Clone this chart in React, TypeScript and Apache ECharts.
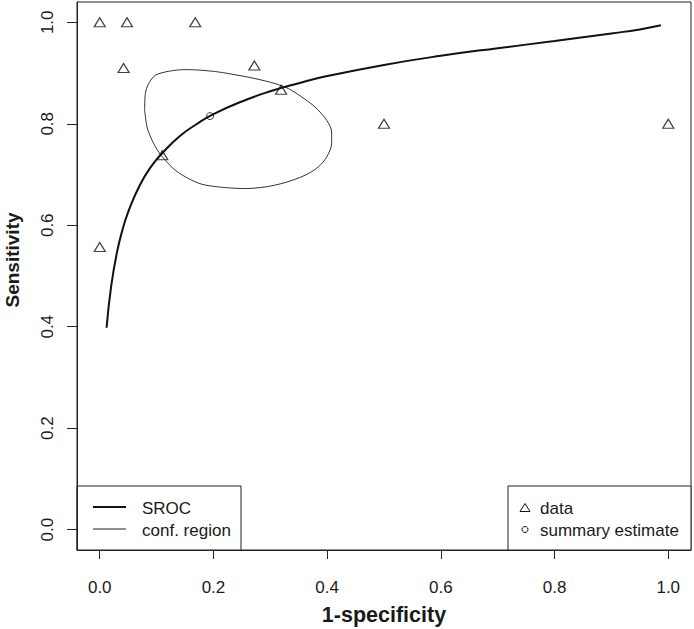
import React, { useEffect, useRef } from "react";
import * as echarts from "echarts";

// Study data (1-specificity, sensitivity)
const DATA_FPR = [0, 0.048, 0.168, 0.042, 0.11, 0, 0.272, 0.319, 0.5, 1.0];
const DATA_SENS = [1, 1, 1, 0.91, 0.738, 0.557, 0.915, 0.867, 0.8, 0.8];

// Summary estimate
const SUMMARY_FPR = [0.194];
const SUMMARY_SENS = [0.815];

// SROC curve
const SROC_X = [0.012, 0.02, 0.03, 0.04, 0.05, 0.07, 0.09, 0.11, 0.14, 0.17, 0.2, 0.25, 0.3, 0.35, 0.4, 0.5, 0.6, 0.7, 0.8, 0.9, 0.95, 0.987];
const SROC_Y = [0.398, 0.479, 0.545, 0.591, 0.626, 0.678, 0.715, 0.742, 0.775, 0.799, 0.819, 0.844, 0.864, 0.88, 0.894, 0.916, 0.934, 0.949, 0.963, 0.978, 0.986, 0.994];

// Confidence region outline
const REGION_X = [0.079, 0.0802, 0.086, 0.0978, 0.1211, 0.1504, 0.1797, 0.2089, 0.2382, 0.2733, 0.3084, 0.3318, 0.3553, 0.3786, 0.3992, 0.4079, 0.4079, 0.3992, 0.3844, 0.3611, 0.326, 0.2909, 0.2557, 0.2382, 0.2089, 0.1797, 0.1562, 0.1329, 0.1153, 0.1036, 0.092, 0.0832, 0.079];
const REGION_Y = [0.8266, 0.8595, 0.8792, 0.8956, 0.9034, 0.9068, 0.9054, 0.9021, 0.8966, 0.8891, 0.8792, 0.8694, 0.8528, 0.8331, 0.8069, 0.7838, 0.761, 0.7346, 0.7149, 0.6985, 0.6841, 0.6755, 0.6723, 0.6729, 0.6755, 0.6808, 0.692, 0.7084, 0.7281, 0.7444, 0.7675, 0.7937, 0.8266];

const X_TICKS = [0, 0.2, 0.4, 0.6, 0.8, 1.0];
const Y_TICKS = [0, 0.2, 0.4, 0.6, 0.8, 1.0];

const LEGEND_LEFT = ["SROC", "conf. region"];
const LEGEND_RIGHT = ["data", "summary estimate"];

const FONT = "'Liberation Sans', Arial, Helvetica, sans-serif";
const INK = "#1a1a1a";

const zip = (xs: number[], ys: number[]) => xs.map((x, i) => [x, ys[i]]);

export default function App() {
  const ref = useRef<HTMLDivElement>(null);
  useEffect(() => {
    const chart = echarts.init(ref.current as HTMLDivElement, null, { renderer: "svg" });
    const textStyle = (x: number, y: number, text: string) => ({
      type: "text",
      x,
      y,
      style: { text, fontSize: 17, fontFamily: FONT, fill: INK, textVerticalAlign: "middle", verticalAlign: "middle" },
    });
    chart.setOption({
      animation: false,
      backgroundColor: "#ffffff",
      grid: {
        left: 77,
        top: 2,
        width: 614,
        height: 548,
        containLabel: false,
        outerBoundsMode: "none",
        show: true,
        borderColor: "#222",
        borderWidth: 1,
        backgroundColor: "transparent",
      },
      xAxis: {
        type: "value",
        min: -0.04,
        max: 1.04,
        name: "1-specificity",
        nameLocation: "middle",
        nameGap: 54,
        nameTextStyle: { fontSize: 21.5, fontWeight: "bold", color: INK, fontFamily: FONT },
        axisLine: { show: true, onZero: false, lineStyle: { color: "#222", width: 1 } },
        axisTick: { show: true, length: 9, customValues: X_TICKS, lineStyle: { color: "#222" } },
        axisLabel: {
          customValues: X_TICKS,
          formatter: (v: number) => v.toFixed(1),
          fontSize: 17,
          color: INK,
          margin: 29,
          fontFamily: FONT,
        },
        splitLine: { show: false },
      },
      yAxis: {
        type: "value",
        min: -0.04,
        max: 1.04,
        name: "Sensitivity",
        nameLocation: "middle",
        nameGap: 55,
        nameTextStyle: { fontSize: 19, fontWeight: "bold", color: INK, fontFamily: FONT, padding: [0, 0, 0, 32] },
        axisLine: { show: true, onZero: false, lineStyle: { color: "#222", width: 1 } },
        axisTick: { show: true, length: 10, customValues: Y_TICKS, lineStyle: { color: "#222" } },
        axisLabel: {
          customValues: Y_TICKS,
          formatter: (v: number) => v.toFixed(1),
          rotate: 90,
          fontSize: 17,
          color: INK,
          margin: 21,
          fontFamily: FONT,
        },
        splitLine: { show: false },
      },
      series: [
        {
          name: "SROC",
          type: "line",
          data: zip(SROC_X, SROC_Y),
          symbol: "none",
          smooth: true,
          lineStyle: { color: "#111", width: 2 },
          z: 3,
        },
        {
          name: "conf. region",
          type: "line",
          data: zip(REGION_X, REGION_Y),
          symbol: "none",
          smooth: 0.3,
          lineStyle: { color: "#333", width: 1 },
          z: 2,
        },
        {
          name: "data",
          type: "scatter",
          data: zip(DATA_FPR, DATA_SENS),
          symbol: "triangle",
          symbolSize: [11, 9],
          itemStyle: { color: "transparent", borderColor: "#111", borderWidth: 1.2 },
          z: 4,
        },
        {
          name: "summary estimate",
          type: "scatter",
          data: zip(SUMMARY_FPR, SUMMARY_SENS),
          symbol: "circle",
          symbolSize: 7,
          itemStyle: { color: "transparent", borderColor: "#111", borderWidth: 1 },
          z: 4,
        },
      ],
      graphic: [
        {
          type: "group",
          z: 100,
          children: [
            { type: "rect", shape: { x: 77, y: 486, width: 164, height: 64 }, style: { fill: "#fff", stroke: "#222", lineWidth: 1 } },
            { type: "line", shape: { x1: 93, y1: 507, x2: 126, y2: 507 }, style: { stroke: "#111", lineWidth: 2 } },
            { type: "line", shape: { x1: 93, y1: 529, x2: 126, y2: 529 }, style: { stroke: "#222", lineWidth: 1 } },
            textStyle(142, 508, LEGEND_LEFT[0]),
            textStyle(142, 530, LEGEND_LEFT[1]),
            { type: "rect", shape: { x: 508, y: 486, width: 183, height: 64 }, style: { fill: "#fff", stroke: "#222", lineWidth: 1 } },
            { type: "polygon", shape: { points: [[525, 503.5], [530, 511.5], [520, 511.5]] }, style: { fill: "none", stroke: "#111", lineWidth: 1 } },
            { type: "circle", shape: { cx: 525, cy: 529.5, r: 3 }, style: { fill: "none", stroke: "#111", lineWidth: 1 } },
            textStyle(540, 508, LEGEND_RIGHT[0]),
            textStyle(540, 530, LEGEND_RIGHT[1]),
          ],
        },
      ],
    });
    return () => chart.dispose();
  }, []);
  return (
    <div
      ref={ref}
      style={{ position: "fixed", left: 0, top: 0, width: 694, height: 629, background: "#fff" }}
    />
  );
}
